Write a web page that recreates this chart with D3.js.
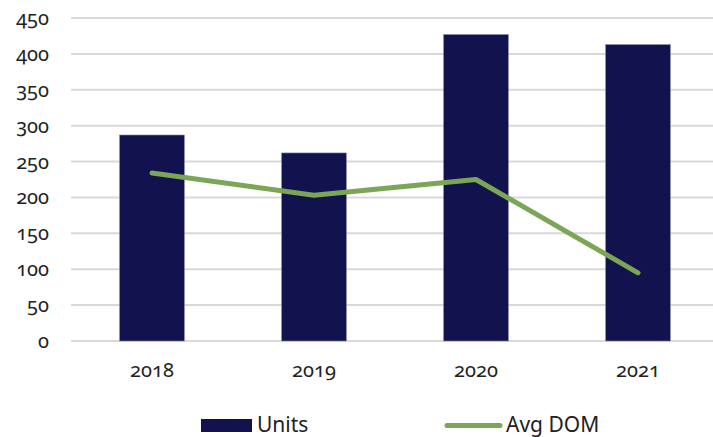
<!DOCTYPE html>
<html>
<head>
<meta charset="utf-8">
<script src="https://cdn.jsdelivr.net/npm/d3@7"></script>
<style>
  body { margin: 0; background: #fff; }
  text { font-family: "Noto Sans", "Open Sans", sans-serif; font-variant-numeric: oldstyle-nums; font-feature-settings: "onum" 1; fill: #222; }
</style>
</head>
<body>
<svg width="713" height="437"></svg>
<script>
const years = ["2018", "2019", "2020", "2021"];
const units = [287, 262, 427, 413];
const avgDom = [234, 203, 225, 95];
const yTicks = [0, 50, 100, 150, 200, 250, 300, 350, 400, 450];

const barColor = "#12124e";
const lineColor = "#7aa655";
const gridColor = "#d9d9d9";

const svg = d3.select("svg");
const plotLeft = 71, plotRight = 719, plotTop = 18, plotBottom = 341;

const x = d3.scaleBand()
    .domain(years)
    .range([plotLeft, plotRight])
    .paddingInner(0.6)
    .paddingOuter(0.3);

const y = d3.scaleLinear()
    .domain([0, 450])
    .range([plotBottom, plotTop]);

// gridlines
svg.append("g")
    .selectAll("line")
    .data(yTicks)
    .join("line")
    .attr("x1", plotLeft)
    .attr("x2", 713)
    .attr("y1", d => y(d))
    .attr("y2", d => y(d))
    .attr("stroke", gridColor)
    .attr("stroke-width", 2);

// y labels
svg.append("g")
    .selectAll("text")
    .data(yTicks)
    .join("text")
    .attr("x", 49)
    .attr("y", d => y(d))
    .attr("dy", "0.35em")
    .attr("text-anchor", "end")
    .attr("font-size", 20)
    .text(d => d);

// bars
svg.append("g")
    .selectAll("rect")
    .data(units)
    .join("rect")
    .attr("x", (d, i) => x(years[i]))
    .attr("y", d => y(d))
    .attr("width", x.bandwidth())
    .attr("height", d => y(0) - y(d))
    .attr("fill", barColor)
    .attr("stroke", "#8a8aa8")
    .attr("stroke-width", 0.6);

// line
const line = d3.line()
    .x((d, i) => x(years[i]) + x.bandwidth() / 2)
    .y(d => y(d));

svg.append("path")
    .datum(avgDom)
    .attr("d", line)
    .attr("fill", "none")
    .attr("stroke", lineColor)
    .attr("stroke-width", 5)
    .attr("stroke-linecap", "round")
    .attr("stroke-linejoin", "round");

// x labels
svg.append("g")
    .selectAll("text")
    .data(years)
    .join("text")
    .attr("x", d => x(d) + x.bandwidth() / 2)
    .attr("y", 377)
    .attr("text-anchor", "middle")
    .attr("font-size", 20)
    .text(d => d);

// legend
const legend = svg.append("g");
legend.append("rect")
    .attr("x", 201)
    .attr("y", 419)
    .attr("width", 51)
    .attr("height", 13)
    .attr("fill", barColor);
legend.append("text")
    .attr("x", 257)
    .attr("y", 432)
    .attr("font-size", 21)
    .text("Units");
legend.append("line")
    .attr("x1", 447)
    .attr("x2", 500)
    .attr("y1", 425.5)
    .attr("y2", 425.5)
    .attr("stroke", lineColor)
    .attr("stroke-width", 5)
    .attr("stroke-linecap", "round");
legend.append("text")
    .attr("x", 506)
    .attr("y", 432)
    .attr("font-size", 21)
    .text("Avg DOM");
</script>
</body>
</html>
